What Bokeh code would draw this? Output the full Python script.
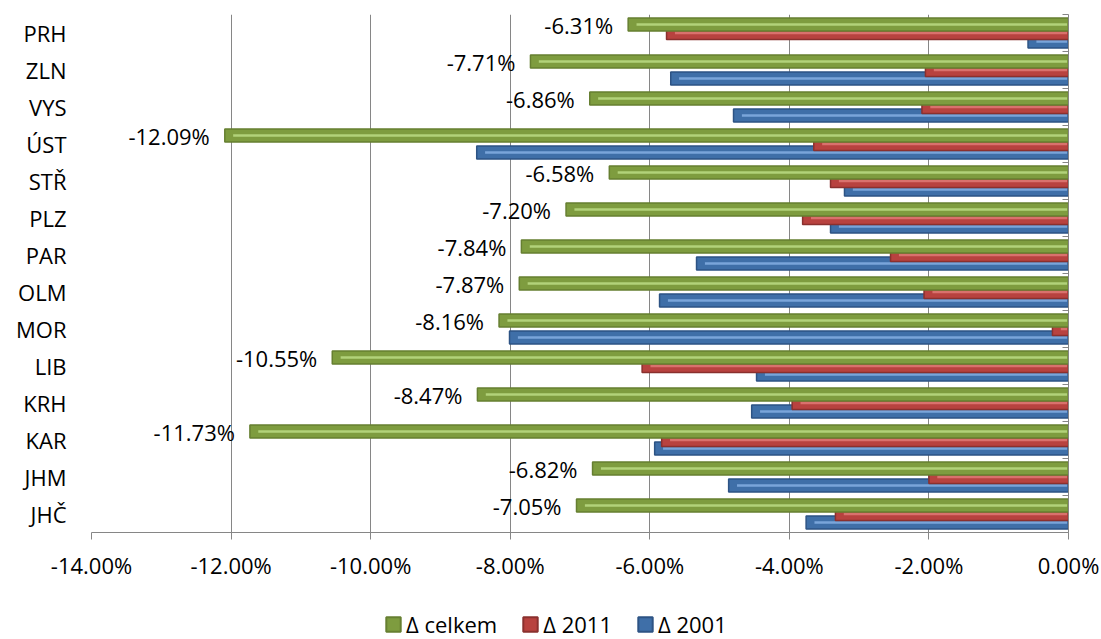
from bokeh.plotting import figure
from bokeh.layouts import column
from bokeh.models import (ColumnDataSource, Range1d, LinearAxis, FixedTicker,
                          Legend, LegendItem)
from bokeh.core.properties import value
from bokeh.embed import file_html
from bokeh.resources import INLINE

# ---- data (percent) ----
regions = ["JHČ", "JHM", "KAR", "KRH", "LIB", "MOR", "OLM", "PAR", "PLZ",
           "STŘ", "ÚST", "VYS", "ZLN", "PRH"]
d_celkem = [-7.05, -6.82, -11.73, -8.47, -10.55, -8.16, -7.87, -7.84, -7.20,
            -6.58, -12.09, -6.86, -7.71, -6.31]
d_2011 = [-3.34, -2.00, -5.83, -3.96, -6.11, -0.23, -2.07, -2.55, -3.81,
          -3.41, -3.65, -2.10, -2.05, -5.76]
d_2001 = [-3.76, -4.87, -5.93, -4.54, -4.47, -8.01, -5.86, -5.33, -3.41,
          -3.21, -8.48, -4.80, -5.70, -0.58]
x_ticks = [-14, -12, -10, -8, -6, -4, -2, 0]
series_names = ["Δ celkem", "Δ 2011", "Δ 2001"]

FONT = "Open Sans"
FS = "22px"
GRID = "#868686"

BH = 0.35
OFF = 0.228
SH = 0.07

# (fill, edge, stripe) per series
COL_C = ("#7E9C3F", "#667F31", "#B2D27A")
COL_11 = ("#B8423F", "#8A302E", "#D9716D")
COL_01 = ("#3F6FA8", "#2D5384", "#7AA5DA")

idx = list(range(len(regions)))
src = ColumnDataSource(dict(
    y_c=[i + OFF for i in idx], y_r=idx, y_b=[i - OFF for i in idx],
    celkem=d_celkem, y2011=d_2011, y2001=d_2001,
    celkem_s=[v + 0.12 for v in d_celkem],
    y2011_s=[v + 0.12 for v in d_2011],
    y2001_s=[v + 0.12 for v in d_2001],
    lab=[f"{v:.2f}%" for v in d_celkem],
))

p = figure(y_range=Range1d(-0.5, len(regions) - 0.5), x_range=Range1d(-14, 0),
           width=1101, height=582,
           min_border_left=91, min_border_top=14, min_border_right=33,
           min_border_bottom=45,
           output_backend="svg", toolbar_location=None,
           background_fill_color="white", border_fill_color="white")
p.outline_line_color = None

# draw order: blue, red, green (green on top)
specs = [
    ("y_b", "y2001", "y2001_s", COL_01),
    ("y_r", "y2011", "y2011_s", COL_11),
    ("y_c", "celkem", "celkem_s", COL_C),
]
for ycol, col, scol, (body, edge, stripe) in specs:
    p.hbar(y=ycol, left=col, right=0, height=BH, source=src,
           fill_color=body, line_color=edge, line_width=1.5)
    p.hbar(y=ycol, left=scol, right=-0.02, height=SH, source=src,
           fill_color=stripe, line_color=None)

# data labels for total
p.text(x="celkem", y="y_c", text="lab", source=src, x_offset=-15,
       text_align="right", text_baseline="middle",
       text_font=value(FONT), text_font_size=FS, text_color="black")

# x axis
p.xaxis.ticker = FixedTicker(ticks=x_ticks)
p.xaxis.major_label_overrides = {t: f"{t:.2f}%" for t in x_ticks}
p.xaxis.axis_line_color = GRID
p.xaxis.major_tick_line_color = GRID
p.xaxis.major_tick_in = 0
p.xaxis.major_tick_out = 7
p.xaxis.minor_tick_line_color = None
p.xaxis.major_label_standoff = 10
p.xaxis.major_label_text_font = FONT
p.xaxis.major_label_text_font_size = FS
p.xaxis.major_label_text_color = "black"

# y axis (labels)
p.yaxis.ticker = FixedTicker(ticks=idx)
p.yaxis.major_label_overrides = {i: n for i, n in zip(idx, regions)}
p.yaxis.axis_line_color = None
p.yaxis.major_tick_line_color = None
p.yaxis.minor_tick_line_color = None
p.yaxis.major_tick_out = 0
p.yaxis.major_label_standoff = 25
p.yaxis.major_label_text_font = FONT
p.yaxis.major_label_text_font_size = FS
p.yaxis.major_label_text_color = "black"

# grid
p.xgrid.ticker = FixedTicker(ticks=x_ticks)
p.xgrid.grid_line_color = GRID
p.ygrid.grid_line_color = None

# vertical axis line at 0 with category boundary ticks
rax = LinearAxis(ticker=FixedTicker(ticks=[i - 0.5 for i in idx] + [idx[-1] + 0.5]))
rax.axis_line_color = GRID
rax.major_tick_line_color = GRID
rax.major_tick_in = 6
rax.major_tick_out = 0
rax.minor_tick_line_color = None
rax.major_label_text_font_size = "0px"
rax.major_label_text_alpha = 0
p.add_layout(rax, "right")

# ---- legend strip below the chart ----
p2 = figure(width=1101, height=57, x_range=Range1d(0, 1), y_range=Range1d(0, 1),
            x_axis_type=None, y_axis_type=None,
            min_border_left=0, min_border_right=0, min_border_top=0,
            min_border_bottom=0, output_backend="svg", toolbar_location=None,
            background_fill_color="white", border_fill_color="white")
p2.outline_line_color = None
p2.xgrid.visible = False
p2.ygrid.visible = False
items = []
for name, (body, edge, stripe) in zip(series_names, [COL_C, COL_11, COL_01]):
    # swatch-only renderer: zero width, far below the visible page
    r = p2.hbar(y=[-5], left=[0], right=[0], height=0.3, fill_color=body,
                line_color=edge, line_width=2)
    items.append(LegendItem(label=name, renderers=[r]))
legend = Legend(items=items, orientation="horizontal", location=(293, 0),
                glyph_width=18, glyph_height=18, label_height=18,
                label_standoff=4, spacing=24,
                label_text_font=FONT, label_text_font_size=FS,
                label_text_color="black",
                border_line_color=None, background_fill_alpha=0,
                padding=0, margin=0)
p2.add_layout(legend, "center")

open("out.html", "w").write(file_html(column(p, p2), INLINE))
